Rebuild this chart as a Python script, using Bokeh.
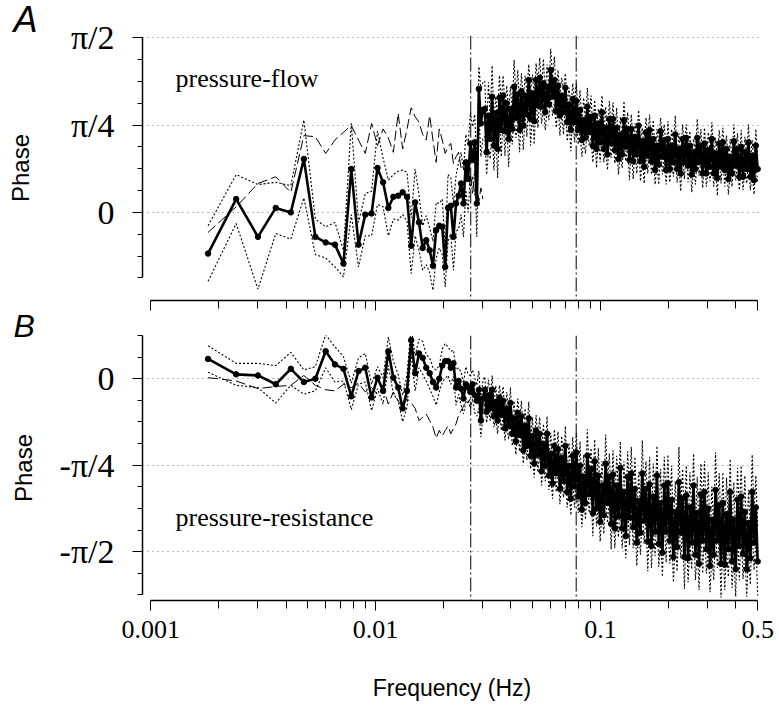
import numpy as np
from bokeh.plotting import figure
from bokeh.layouts import column
from bokeh.models import FixedTicker, Span, Label, Range1d, Title
from bokeh.embed import file_html
from bokeh.resources import INLINE

PI = np.pi
BIN_HZ = 0.0006          # spectral resolution (Hz)
N_HI = 150               # points kept above bin 50

# ---------------- panel A : pressure-flow ----------------
flow_low = [-0.37, 0.12, -0.22, 0.04, 0.00, 0.48, -0.22, -0.27, -0.29, -0.46,
            0.39, -0.29, -0.02, -0.01, 0.40, 0.27, 0.04, 0.14, 0.15, 0.18,
            0.14, -0.30, 0.09, -0.09, -0.32, -0.25, -0.34, -0.48, -0.16, -0.12,
            -0.13, -0.49, 0.04, 0.06, -0.22, 0.08, 0.15, 0.26, 0.08, 0.45,
            0.30, 0.62, 0.47, 0.63, 0.08, 1.11, 0.80, 0.92]
flow_low_err = [0.25, 0.22, 0.47, 0.23, 0.24, 0.35, 0.16, 0.14, 0.20, 0.12,
                0.41, 0.20, 0.19, 0.20, 0.33, 0.22, 0.25, 0.20, 0.22, 0.20,
                0.22, 0.25, 0.30, 0.25, 0.20, 0.22, 0.20, 0.22, 0.25, 0.20,
                0.25, 0.18, 0.30, 0.25, 0.30, 0.25, 0.30, 0.28, 0.30, 0.25,
                0.30, 0.28, 0.30, 0.25, 0.30, 0.20, 0.30, 0.25]
flow_hi = [0.93, 0.54, 0.87, 0.66, 1.04, 0.60, 0.89, 0.57, 1.03, 0.74,
           1.05, 0.73, 0.98, 0.66, 0.93, 0.75, 1.13, 0.85, 1.06, 0.74,
           1.09, 0.78, 1.05, 0.88, 1.19, 0.84, 1.07, 0.82, 1.19, 0.96,
           1.21, 0.95, 1.16, 0.90, 1.13, 0.97, 1.28, 1.04, 1.19, 0.91,
           1.14, 0.87, 1.05, 0.90, 1.12, 0.81, 0.97, 0.74, 1.02, 0.81,
           1.00, 0.74, 0.92, 0.65, 0.83, 0.67, 0.95, 0.72, 0.86, 0.60,
           0.87, 0.57, 0.80, 0.63, 0.90, 0.57, 0.76, 0.52, 0.84, 0.62,
           0.84, 0.56, 0.76, 0.48, 0.70, 0.52, 0.83, 0.59, 0.75, 0.47,
           0.75, 0.46, 0.68, 0.52, 0.78, 0.46, 0.64, 0.41, 0.72, 0.51,
           0.74, 0.46, 0.66, 0.38, 0.60, 0.43, 0.73, 0.50, 0.65, 0.38,
           0.66, 0.39, 0.60, 0.45, 0.70, 0.39, 0.57, 0.35, 0.66, 0.45,
           0.67, 0.42, 0.60, 0.34, 0.54, 0.39, 0.67, 0.45, 0.60, 0.35,
           0.62, 0.35, 0.56, 0.41, 0.66, 0.35, 0.53, 0.31, 0.62, 0.41,
           0.63, 0.38, 0.57, 0.30, 0.50, 0.35, 0.64, 0.42, 0.57, 0.32,
           0.59, 0.32, 0.54, 0.39, 0.63, 0.32, 0.51, 0.29, 0.60, 0.39]
flow_hi_err = [0.25, 0.20, 0.30, 0.18, 0.28, 0.22, 0.15, 0.26, 0.20, 0.24,
               0.18, 0.22, 0.16, 0.25, 0.20, 0.14, 0.24, 0.18, 0.22, 0.20,
               0.16, 0.22, 0.18, 0.20, 0.14, 0.24, 0.17, 0.21, 0.15, 0.20,
               0.18, 0.15, 0.22, 0.16, 0.20, 0.14, 0.19, 0.17, 0.21, 0.15,
               0.14, 0.18, 0.16, 0.20, 0.13, 0.17, 0.15, 0.19, 0.14, 0.18,
               0.16, 0.13, 0.18, 0.15, 0.20, 0.14, 0.17, 0.12, 0.19, 0.15,
               0.14, 0.17, 0.13, 0.18, 0.15, 0.12, 0.19, 0.14, 0.16, 0.13,
               0.15, 0.12, 0.18, 0.14, 0.16, 0.12, 0.17, 0.13, 0.15, 0.18,
               0.13, 0.16, 0.12, 0.17, 0.14, 0.18, 0.12, 0.15, 0.13, 0.16,
               0.14, 0.12, 0.17, 0.13, 0.15, 0.18, 0.12, 0.16, 0.14, 0.13,
               0.16, 0.12, 0.15, 0.13, 0.17, 0.12, 0.14, 0.16, 0.13, 0.15,
               0.12, 0.15, 0.13, 0.16, 0.12, 0.14, 0.17, 0.12, 0.15, 0.13,
               0.14, 0.12, 0.16, 0.13, 0.15, 0.12, 0.14, 0.16, 0.12, 0.15,
               0.13, 0.15, 0.12, 0.14, 0.16, 0.12, 0.15, 0.13, 0.14, 0.12,
               0.15, 0.12, 0.14, 0.13, 0.16, 0.12, 0.14, 0.13, 0.15, 0.12]
flow_ref = [-0.18, 0.05, 0.26, 0.32, 0.18, 0.69, 0.68, 0.53, 0.65, 0.72,
            0.78, 0.65, 0.53, 0.80, 0.60, 0.75, 0.67, 0.54, 0.89, 0.57,
            0.75, 0.94, 0.86, 0.81, 0.70, 0.65, 0.87, 0.65, 0.45, 0.75,
            0.65, 0.53, 0.59, 0.62, 0.44, 0.50, 0.54, 0.40, 0.42, 0.30,
            0.38, 0.22, 0.32, 0.15, 0.28, 0.10, 0.22, 0.12]

# ---------------- panel B : pressure-resistance ----------------
res_low = [0.18, 0.04, 0.03, -0.05, 0.09, -0.03, 0.00, 0.25, 0.13, 0.09,
           -0.16, 0.07, 0.10, -0.17, 0.01, -0.11, 0.25, 0.01, -0.08, -0.27,
           -0.11, 0.35, 0.05, 0.23, 0.19, 0.10, 0.05, -0.03, -0.08, 0.00,
           0.12, 0.16, 0.16, 0.10, 0.14, -0.08, -0.02, -0.09, -0.18, -0.05,
           -0.08, -0.12, -0.05, -0.15, -0.20, -0.10, -0.38, -0.18]
res_low_err = [0.12, 0.10, 0.11, 0.17, 0.15, 0.11, 0.11, 0.15, 0.16, 0.11,
               0.12, 0.12, 0.13, 0.12, 0.10, 0.12, 0.13, 0.15, 0.12, 0.12,
               0.15, 0.12, 0.16, 0.13, 0.15, 0.12, 0.14, 0.13, 0.16, 0.12,
               0.15, 0.16, 0.13, 0.15, 0.12, 0.16, 0.12, 0.15, 0.14, 0.16,
               0.12, 0.15, 0.13, 0.16, 0.14, 0.17, 0.15, 0.16]
res_hi = [-0.10, -0.30, -0.15, -0.27, -0.10, -0.34, -0.21, -0.38, -0.17, -0.33,
          -0.20, -0.45, -0.27, -0.43, -0.22, -0.50, -0.36, -0.57, -0.31, -0.51,
          -0.34, -0.65, -0.43, -0.61, -0.36, -0.70, -0.52, -0.77, -0.47, -0.69,
          -0.50, -0.84, -0.59, -0.79, -0.50, -0.88, -0.68, -0.95, -0.61, -0.86,
          -0.64, -1.00, -0.72, -0.93, -0.61, -1.03, -0.79, -1.09, -0.70, -0.98,
          -0.67, -1.07, -0.79, -1.19, -0.89, -1.13, -0.70, -1.05, -0.82, -1.22,
          -0.75, -1.18, -0.88, -1.30, -0.97, -1.24, -0.77, -1.13, -0.89, -1.32,
          -0.87, -1.36, -0.97, -1.25, -0.81, -1.36, -1.03, -1.43, -0.89, -1.26,
          -0.86, -1.35, -1.00, -1.49, -1.11, -1.40, -0.86, -1.29, -1.00, -1.48,
          -0.96, -1.52, -1.07, -1.39, -0.88, -1.50, -1.13, -1.58, -0.97, -1.39,
          -0.95, -1.47, -1.10, -1.62, -1.21, -1.53, -0.94, -1.40, -1.09, -1.62,
          -1.06, -1.63, -1.17, -1.49, -0.97, -1.60, -1.22, -1.68, -1.05, -1.47,
          -1.03, -1.55, -1.18, -1.70, -1.28, -1.60, -1.01, -1.47, -1.15, -1.68,
          -1.13, -1.69, -1.23, -1.55, -1.03, -1.66, -1.28, -1.73, -1.10, -1.52,
          -1.07, -1.59, -1.21, -1.73, -1.31, -1.63, -1.03, -1.49, -1.17, -1.66]
res_hi_err = [0.12, 0.10, 0.14, 0.11, 0.13, 0.10, 0.15, 0.12, 0.11, 0.14,
              0.13, 0.11, 0.15, 0.12, 0.14, 0.11, 0.16, 0.12, 0.13, 0.15,
              0.14, 0.12, 0.16, 0.13, 0.15, 0.12, 0.17, 0.13, 0.14, 0.16,
              0.15, 0.13, 0.18, 0.14, 0.16, 0.13, 0.19, 0.14, 0.15, 0.17,
              0.16, 0.14, 0.20, 0.15, 0.18, 0.14, 0.21, 0.15, 0.17, 0.19,
              0.18, 0.15, 0.22, 0.16, 0.20, 0.15, 0.24, 0.17, 0.19, 0.21,
              0.20, 0.16, 0.25, 0.18, 0.22, 0.17, 0.26, 0.18, 0.21, 0.23,
              0.22, 0.18, 0.27, 0.19, 0.24, 0.18, 0.28, 0.20, 0.23, 0.25,
              0.24, 0.19, 0.29, 0.21, 0.26, 0.20, 0.30, 0.21, 0.25, 0.27,
              0.25, 0.20, 0.30, 0.22, 0.27, 0.21, 0.31, 0.22, 0.26, 0.28,
              0.26, 0.21, 0.31, 0.23, 0.28, 0.22, 0.32, 0.23, 0.27, 0.29,
              0.27, 0.22, 0.32, 0.24, 0.29, 0.23, 0.33, 0.24, 0.28, 0.30,
              0.28, 0.22, 0.33, 0.24, 0.30, 0.23, 0.34, 0.25, 0.29, 0.31,
              0.28, 0.23, 0.33, 0.25, 0.30, 0.24, 0.34, 0.25, 0.29, 0.31,
              0.28, 0.23, 0.33, 0.25, 0.30, 0.24, 0.34, 0.25, 0.29, 0.31]
res_ref = [0.01, -0.02, -0.09, -0.07, -0.06, 0.03, -0.06, -0.10, -0.11, -0.05,
           -0.08, -0.04, -0.12, -0.08, -0.14, -0.08, -0.23, -0.12, -0.20, -0.26,
           -0.18, -0.22, -0.27, -0.38, -0.35, -0.32, -0.38, -0.44, -0.54, -0.47,
           -0.52, -0.47, -0.43, -0.50, -0.45, -0.41, -0.33, -0.29, -0.25, -0.20,
           -0.22, -0.18]

band_edges_hz = [0.0265, 0.078]
x_tick_labels = {0.001: "0.001", 0.01: "0.01", 0.1: "0.1", 0.5: "0.5"}
x_minor = [0.002, 0.003, 0.004, 0.005, 0.006, 0.007, 0.008, 0.009,
           0.02, 0.03, 0.04, 0.05, 0.06, 0.07, 0.08, 0.09, 0.2, 0.3, 0.4]

# frequency grid
freq_low = BIN_HZ * np.arange(3, 3 + len(flow_low))
freq_hi = np.geomspace(51 * BIN_HZ, 0.5, N_HI)
freq = np.concatenate([freq_low, freq_hi])

SERIF = "Liberation Serif"
SANS = "Liberation Sans"

x_range = Range1d(0.00092, 0.52)


def style_axes(p, yticks, yminor, ylabels, ybounds, show_xlabels, phase_standoff):
    p.outline_line_color = None
    p.background_fill_color = "white"
    p.xgrid.grid_line_color = None
    p.ygrid.grid_line_color = "#777777"
    p.ygrid.grid_line_dash = "1 4"
    p.ygrid.grid_line_width = 1
    p.yaxis.ticker = FixedTicker(ticks=yticks, minor_ticks=yminor)
    p.ygrid.ticker = FixedTicker(ticks=yticks)
    p.yaxis.major_label_overrides = ylabels
    p.yaxis.bounds = ybounds
    p.yaxis.major_label_text_font = SERIF
    p.yaxis.major_label_text_font_size = "34px"
    p.yaxis.major_label_text_color = "black"
    p.yaxis.major_label_standoff = 18
    p.yaxis.major_tick_out = 10
    p.yaxis.major_tick_in = 0
    p.yaxis.minor_tick_out = 5
    p.yaxis.minor_tick_in = 0
    p.yaxis.axis_line_width = 1.5
    p.yaxis.axis_label = "Phase"
    p.yaxis.axis_label_text_font = SANS
    p.yaxis.axis_label_text_font_style = "normal"
    p.yaxis.axis_label_text_font_size = "24px"
    p.yaxis.axis_label_text_color = "black"
    p.yaxis.axis_label_standoff = phase_standoff
    p.xaxis.ticker = FixedTicker(ticks=list(x_tick_labels.keys()), minor_ticks=x_minor)
    p.xaxis.major_label_overrides = x_tick_labels
    p.xaxis.bounds = (0.001, 0.5)
    p.xaxis.major_tick_out = 10
    p.xaxis.major_tick_in = 0
    p.xaxis.minor_tick_out = 8
    p.xaxis.minor_tick_in = 0
    p.xaxis.axis_line_width = 1.5
    p.xaxis.major_label_text_font = SERIF
    p.xaxis.major_label_text_color = "black"
    if show_xlabels:
        p.xaxis.major_label_text_font_size = "26px"
        p.xaxis.major_label_standoff = 10
        p.xaxis.axis_label = "Frequency (Hz)"
        p.xaxis.axis_label_text_font = SANS
        p.xaxis.axis_label_text_font_style = "normal"
        p.xaxis.axis_label_text_font_size = "23px"
        p.xaxis.axis_label_text_color = "black"
        p.xaxis.axis_label_standoff = 34
    else:
        p.xaxis.major_label_text_font_size = "1px"
        p.xaxis.major_label_text_alpha = 0.0
        p.xaxis.major_label_standoff = 0
    for f in band_edges_hz:
        p.add_layout(Span(location=f, dimension="height", line_color="black",
                          line_width=1, line_dash="14 3 2 3"))


def draw_series(p, main, err, ref):
    main = np.array(main)
    err = np.array(err)
    up = main + err
    lo = main - err
    p.line(freq, up, line_color="black", line_width=1.1, line_dash="2 2")
    p.line(freq, lo, line_color="black", line_width=1.1, line_dash="2 2")
    fref = BIN_HZ * np.arange(3, 3 + len(ref))
    p.line(fref, ref, line_color="black", line_width=1, line_dash="10 4")
    p.line(freq, main, line_color="black", line_width=2.6)
    p.scatter(freq, main, marker="circle", size=5.5, fill_color="black", line_color="black")


def panel_title(text, standoff, size):
    t = Title(text=text, align="left", offset=-129,
              text_font=SANS, text_font_style="italic", text_font_size=size,
              text_color="black")
    try:
        t.standoff = standoff
    except Exception:
        t.standoff = 0
    return t


# ---------------- top figure ----------------
top = figure(width=779, height=312, x_axis_type="log", x_range=x_range,
             y_range=(-0.792, 1.59), output_backend="svg", toolbar_location=None,
             min_border_left=142, min_border_right=18, min_border_top=35,
             min_border_bottom=12)
top.title = panel_title("A", -8, "36px")
style_axes(top, [0.0, PI / 4, PI / 2],
           [k * PI / 16 for k in range(-3, 9)],
           {0.0: "0", PI / 4: "π/4", PI / 2: "π/2"},
           (-3 * PI / 16, PI / 2), False, 34)
draw_series(top, flow_low + flow_hi, flow_low_err + flow_hi_err, flow_ref)

top.add_layout(Label(x=0.00129, y=1.20, text="pressure-flow", text_font=SERIF,
                     text_font_size="26px", text_baseline="middle", text_color="black"))

# ---------------- bottom figure ----------------
bot = figure(width=779, height=393, x_axis_type="log", x_range=x_range,
             y_range=(-2.015, 0.393), output_backend="svg", toolbar_location=None,
             min_border_left=142, min_border_right=18, min_border_top=23,
             min_border_bottom=105)
bot.title = panel_title("B", -16, "32px")
style_axes(bot, [-PI / 2, -PI / 4, 0.0],
           [k * PI / 16 for k in range(-10, 3)],
           {0.0: "0", -PI / 4: "-π/4", -PI / 2: "-π/2"},
           (-10 * PI / 16, 2 * PI / 16), True, 20)
draw_series(bot, res_low + res_hi, res_low_err + res_hi_err, res_ref)

bot.add_layout(Label(x=0.00129, y=-1.263, text="pressure-resistance", text_font=SERIF,
                     text_font_size="26px", text_baseline="middle", text_color="black"))

layout = column(top, bot, spacing=0)
open("out.html", "w").write(file_html(layout, INLINE))
